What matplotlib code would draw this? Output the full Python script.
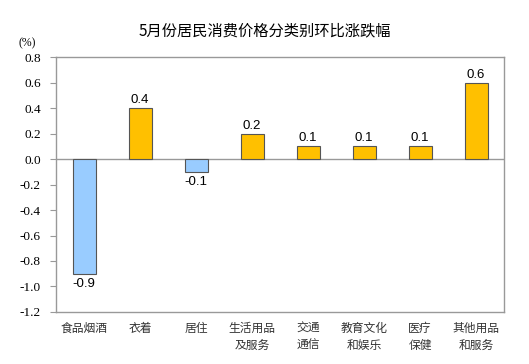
import numpy as np
import matplotlib
matplotlib.use("Agg")
import matplotlib.pyplot as plt

plt.rcParams['font.family'] = ['Noto Sans CJK SC', 'DejaVu Sans']

categories = ["食品烟酒", "衣着", "居住", "生活用品\n及服务", "交通\n通信",
              "教育文化\n和娱乐", "医疗\n保健", "其他用品\n和服务"]
values = [-0.9, 0.4, -0.1, 0.2, 0.1, 0.1, 0.1, 0.6]
yticks = [-1.2, -1.0, -0.8, -0.6, -0.4, -0.2, 0.0, 0.2, 0.4, 0.6, 0.8]

fig = plt.figure(figsize=(5.29, 3.64), dpi=100)
ax = fig.add_axes([0.106, 0.143, 0.847, 0.70])

x = np.arange(len(categories))
colors = ["#99CCFF" if v < 0 else "#FFC000" for v in values]
bars = ax.bar(x, values, width=0.41, color=colors, edgecolor="#555555", linewidth=0.8, zorder=3)

for xi, v in zip(x, values):
    if v >= 0:
        ax.text(xi, v + 0.015, "%.1f" % v, ha="center", va="bottom", fontsize=9.5, family="Liberation Sans")
    else:
        ax.text(xi, v - 0.03, "%.1f" % v, ha="center", va="top", fontsize=9.5, family="Liberation Sans")

ax.axhline(0, color="#999999", linewidth=1, zorder=2)

ax.set_xlim(-0.5, len(categories) - 0.5)
ax.set_ylim(-1.2, 0.8)
ax.set_yticks(yticks)
ax.set_yticklabels(["%.1f" % t for t in yticks])
for lab in ax.get_yticklabels():
    lab.set_fontfamily("Liberation Serif")
    lab.set_fontsize(9.5)
ax.tick_params(axis="y", direction="out", length=4, color="#999999", pad=7)
ax.set_xticks(x)
ax.set_xticklabels(categories, fontsize=8.5, linespacing=1.4, color="#333333")
ax.tick_params(axis="x", length=0, pad=7)

for s in ax.spines.values():
    s.set_color("#999999")
    s.set_linewidth(1)

fig.text(0.5, 0.915, "5月份居民消费价格分类别环比涨跌幅", ha="center", va="center", fontsize=11)
fig.text(0.052, 0.882, "(%)", ha="center", va="center", fontsize=8.5, family="Liberation Serif")

plt.savefig("out.png", dpi=100)
